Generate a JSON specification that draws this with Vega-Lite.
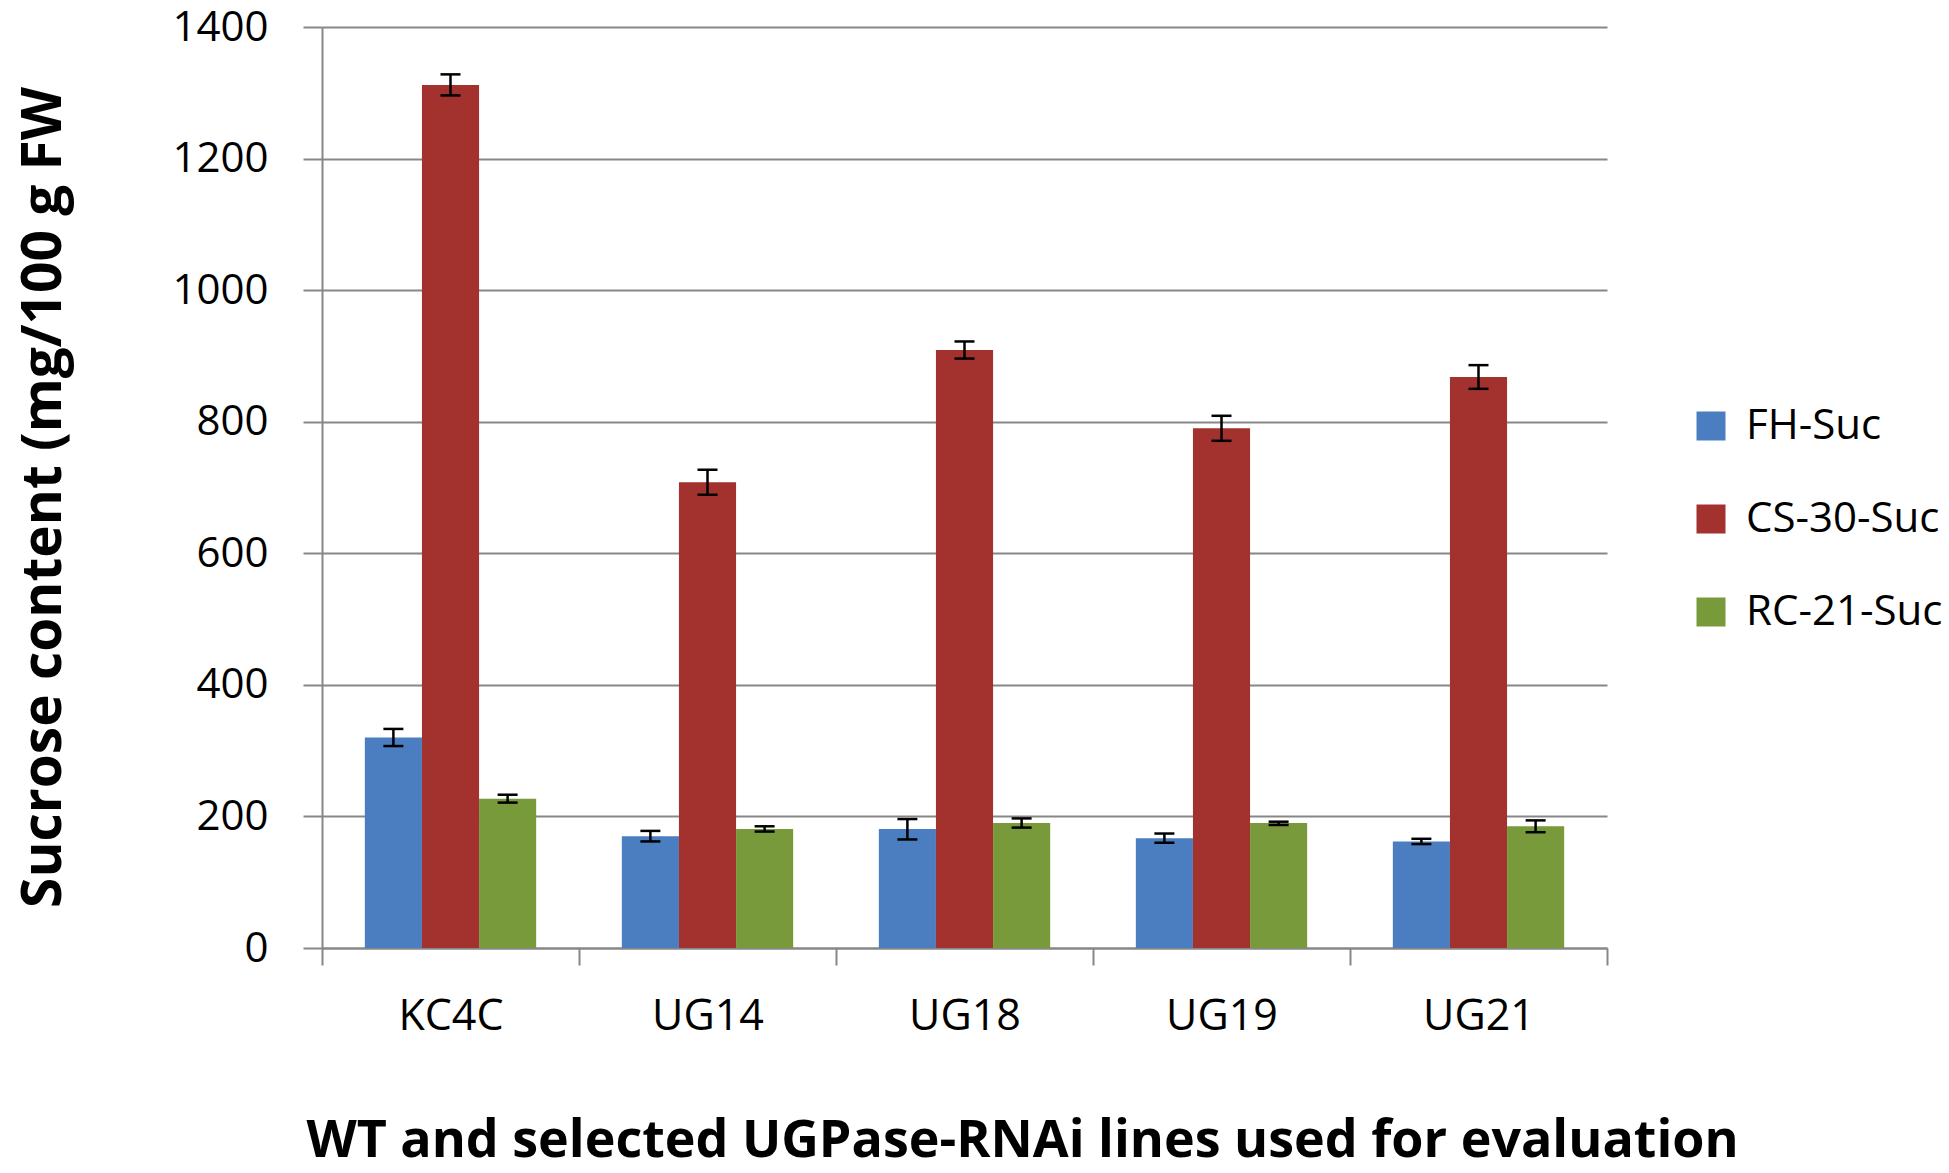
{
  "$schema": "https://vega.github.io/schema/vega-lite/v6.json",
  "width": 1285,
  "height": 921,
  "autosize": {"type": "none"},
  "padding": {"left": 322, "top": 27, "right": 342, "bottom": 225},
  "background": "white",
  "config": {"view": {"stroke": null}, "font": "Open Sans"},
  "data": {
    "values": [
      {"line": "KC4C", "series": "FH-Suc", "value": 320, "lo": 307, "hi": 333},
      {"line": "KC4C", "series": "CS-30-Suc", "value": 1312, "lo": 1296, "hi": 1328},
      {"line": "KC4C", "series": "RC-21-Suc", "value": 227, "lo": 221, "hi": 233},
      {"line": "UG14", "series": "FH-Suc", "value": 170, "lo": 162, "hi": 178},
      {"line": "UG14", "series": "CS-30-Suc", "value": 708, "lo": 689, "hi": 727},
      {"line": "UG14", "series": "RC-21-Suc", "value": 181, "lo": 177, "hi": 185},
      {"line": "UG18", "series": "FH-Suc", "value": 181, "lo": 165, "hi": 196},
      {"line": "UG18", "series": "CS-30-Suc", "value": 909, "lo": 896, "hi": 922},
      {"line": "UG18", "series": "RC-21-Suc", "value": 190, "lo": 183, "hi": 197},
      {"line": "UG19", "series": "FH-Suc", "value": 167, "lo": 160, "hi": 174},
      {"line": "UG19", "series": "CS-30-Suc", "value": 790, "lo": 771, "hi": 809},
      {"line": "UG19", "series": "RC-21-Suc", "value": 190, "lo": 187, "hi": 192},
      {"line": "UG21", "series": "FH-Suc", "value": 162, "lo": 158, "hi": 166},
      {"line": "UG21", "series": "CS-30-Suc", "value": 868, "lo": 850, "hi": 886},
      {"line": "UG21", "series": "RC-21-Suc", "value": 185, "lo": 176, "hi": 194}
    ]
  },
  "encoding": {
    "x": {
      "field": "line",
      "type": "nominal",
      "sort": ["KC4C", "UG14", "UG18", "UG19", "UG21"],
      "scale": {"paddingInner": 0, "paddingOuter": 0},
      "axis": {
        "tickBand": "extent",
        "labelAngle": 0,
        "labelFont": "Open Sans",
        "labelFontSize": 43,
        "labelColor": "black",
        "labelPadding": 30,
        "tickColor": "#878787",
        "tickWidth": 2,
        "tickSize": 17,
        "domainColor": "#878787",
        "domainWidth": 2,
        "grid": false,
        "title": "WT and selected UGPase-RNAi lines used for evaluation",
        "titleFont": "Open Sans",
        "titleFontSize": 52,
        "titleFontWeight": "bold",
        "titleColor": "black",
        "titleX": 700,
        "titleY": 208,
        "titleAlign": "center",
        "titleBaseline": "alphabetic"
      }
    },
    "xOffset": {
      "field": "series",
      "type": "nominal",
      "sort": ["FH-Suc", "CS-30-Suc", "RC-21-Suc"],
      "scale": {"paddingInner": 0, "paddingOuter": 0.75}
    }
  },
  "layer": [
    {
      "mark": {"type": "bar"},
      "encoding": {
        "y": {
          "field": "value",
          "type": "quantitative",
          "title": "Sucrose content (mg/100 g FW",
          "scale": {"domain": [0, 1400]},
          "axis": {
            "values": [0, 200, 400, 600, 800, 1000, 1200, 1400],
            "format": "d",
            "grid": true,
            "gridColor": "#878787",
            "gridWidth": 2,
            "domainColor": "#878787",
            "domainWidth": 2,
            "tickColor": "#878787",
            "tickWidth": 2,
            "tickSize": 19,
            "labelPadding": 35,
            "labelFont": "Open Sans",
            "labelFontSize": 42,
            "labelColor": "black",
            "titleFont": "Open Sans",
            "titleFontWeight": "bold",
            "titleFontSize": 55,
            "titleColor": "black",
            "titleX": -279,
            "titleY": 470,
            "titleAngle": -90,
            "titleAlign": "center",
            "titleBaseline": "middle"
          }
        },
        "color": {
          "field": "series",
          "type": "nominal",
          "scale": {
            "domain": ["FH-Suc", "CS-30-Suc", "RC-21-Suc"],
            "range": ["#4A7EC0", "#A3312E", "#789A3A"]
          },
          "legend": {
            "orient": "none",
            "legendX": 1368,
            "legendY": 378,
            "title": null,
            "symbolType": "square",
            "symbolSize": 841,
            "symbolStrokeWidth": 0,
            "labelFont": "Open Sans",
            "labelFontSize": 42,
            "labelColor": "black",
            "labelOffset": 14,
            "labelLimit": 400,
            "rowPadding": 51
          }
        }
      }
    },
    {
      "mark": {"type": "rule", "color": "black", "strokeWidth": 2.5},
      "encoding": {
        "y": {"field": "lo", "type": "quantitative", "title": "Sucrose content (mg/100 g FW"},
        "y2": {"field": "hi"}
      }
    },
    {
      "mark": {"type": "tick", "color": "black", "thickness": 2.5, "size": 20, "opacity": 1},
      "encoding": {
        "y": {"field": "lo", "type": "quantitative", "title": "Sucrose content (mg/100 g FW"}
      }
    },
    {
      "mark": {"type": "tick", "color": "black", "thickness": 2.5, "size": 20, "opacity": 1},
      "encoding": {
        "y": {"field": "hi", "type": "quantitative", "title": "Sucrose content (mg/100 g FW"}
      }
    }
  ]
}
